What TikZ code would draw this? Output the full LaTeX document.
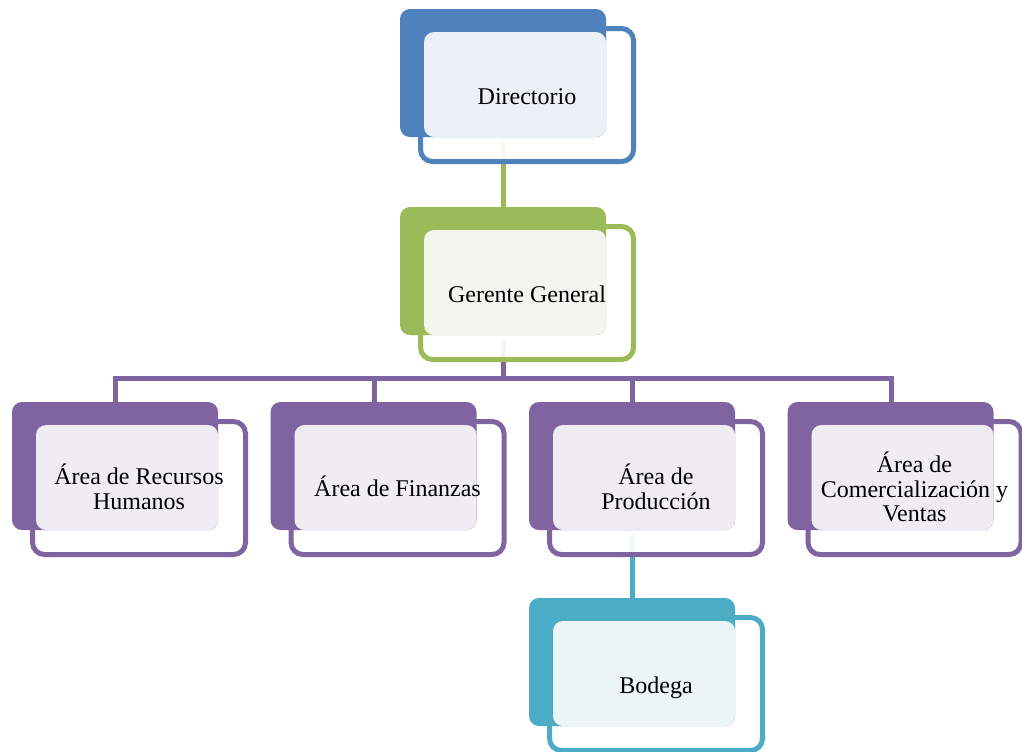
\documentclass[tikz,border=0pt]{standalone}
\usepackage{fontspec}
\setmainfont{Liberation Serif}
\usetikzlibrary{calc}
\pgfdeclarelayer{bg}
\pgfsetlayers{bg,main}
\definecolor{cblue}{HTML}{4F81BD}
\definecolor{lblue}{HTML}{ECF0F7}
\definecolor{cgreen}{HTML}{9BBB59}
\definecolor{lgreen}{HTML}{F3F6EE}
\definecolor{cpurple}{HTML}{8064A2}
\definecolor{lpurple}{HTML}{EFEDF3}
\definecolor{cteal}{HTML}{4BACC6}
\definecolor{lteal}{HTML}{EBF4F7}
\tikzset{
  txt/.style={align=center, inner sep=0pt, font=\fontsize{12}{12.2}\selectfont, text=black},
  frontbox/.style={line width=2.5pt, fill=white, fill opacity=0.93, rounded corners=6pt},
  backbox/.style={rounded corners=5pt},
  conn/.style={line width=2.5pt, line join=miter}
}
\newcommand\orgbox[7]{%
  \coordinate (#1-b) at (#2,#3);
  \coordinate (#1-top) at ($(#1-b)+(103.5,0)$);
  \coordinate (#1-bot) at ($(#1-b)+(103.5,133)$);
  \draw[frontbox, draw=#4] ($(#1-b)+(20.5,19.5)$) rectangle ($(#1-b)+(233.5,152.5)$);
  \fill[backbox, #4] (#1-b) rectangle ($(#1-b)+(206,128)$);
  \fill[backbox, #5] ($(#1-b)+(24,23)$) rectangle ($(#1-b)+(206,128)$);
  \node[txt] (#1) at ($(#1-b)+(127,#7)$) {#6};
}
\begin{document}
\begin{tikzpicture}[x=0.5pt, y=-0.5pt]
\useasboundingbox (0,0) rectangle (1022,751);
\orgbox{dir}{400}{9}{cblue}{lblue}{Directorio}{88}
\orgbox{ger}{400}{207}{cgreen}{lgreen}{Gerente General}{87}
\orgbox{rh}{12}{402}{cpurple}{lpurple}{Área de Recursos\\Humanos}{85}
\orgbox{fin}{270.5}{402}{cpurple}{lpurple}{Área de Finanzas}{84}
\orgbox{prod}{529}{402}{cpurple}{lpurple}{Área de\\Producción}{85}
\orgbox{com}{787.5}{402}{cpurple}{lpurple}{Área de\\Comercialización y\\Ventas}{85}
\orgbox{bod}{529}{598}{cteal}{lteal}{Bodega}{90}
\coordinate (bus) at (0,378);
\begin{pgfonlayer}{bg}
  \draw[conn, cgreen] (dir-bot) -- (ger-top);
  \foreach \c in {rh,fin,prod,com}{
    \draw[conn, cpurple] (\c-top) -- (\c-top |- bus) -- (ger-bot |- bus) -- (ger-bot);
  }
  \draw[conn, cteal] (prod-bot) -- (bod-top);
\end{pgfonlayer}
\end{tikzpicture}
\end{document}
